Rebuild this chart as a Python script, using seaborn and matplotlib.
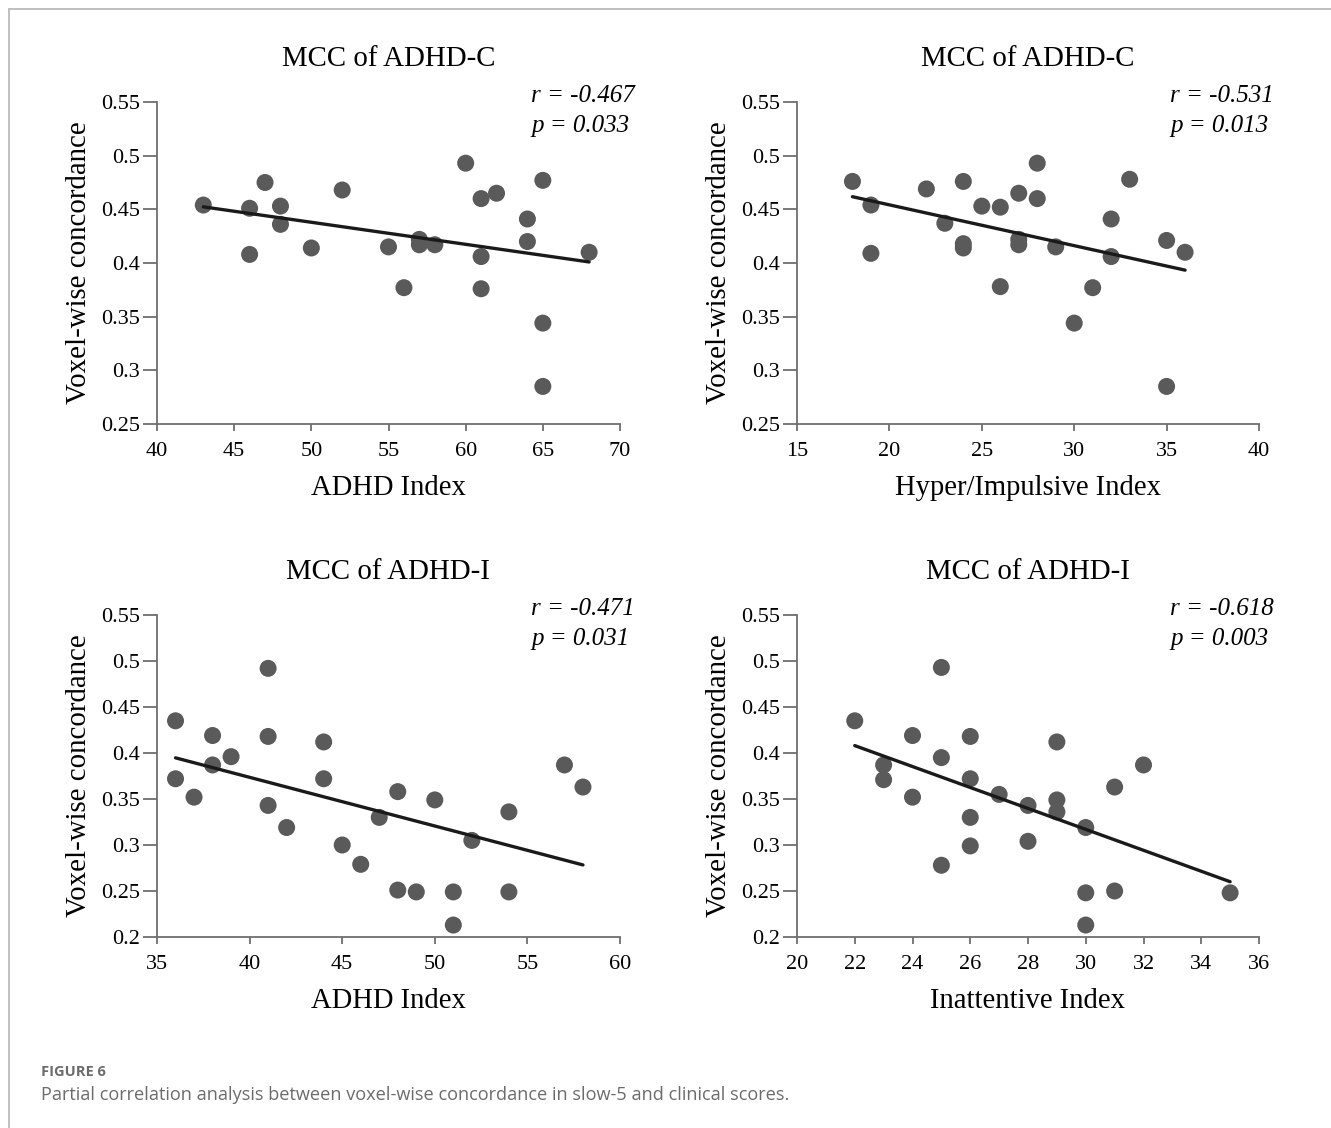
import matplotlib
matplotlib.use("Agg")
import matplotlib.pyplot as plt
import seaborn as sns
import pandas as pd
from matplotlib.lines import Line2D

# ---------------- data ----------------
titles = ["MCC of ADHD-C", "MCC of ADHD-C", "MCC of ADHD-I", "MCC of ADHD-I"]
xlabels = ["ADHD Index", "Hyper/Impulsive Index", "ADHD Index", "Inattentive Index"]
ylabel = "Voxel-wise concordance"
r_texts = ["r = -0.467", "r = -0.531", "r = -0.471", "r = -0.618"]
p_texts = ["p = 0.033", "p = 0.013", "p = 0.031", "p = 0.003"]

c_adhd_x = [43, 46, 46, 47, 48, 48, 50, 52, 55, 56, 57, 57, 58, 60, 61, 61, 61, 62,
            64, 64, 65, 65, 65, 68]
c_adhd_y = [0.454, 0.451, 0.408, 0.475, 0.453, 0.436, 0.414, 0.468, 0.415, 0.377,
            0.422, 0.417, 0.417, 0.493, 0.460, 0.406, 0.376, 0.465, 0.441, 0.420,
            0.477, 0.344, 0.285, 0.410]

c_hyp_x = [18, 19, 19, 22, 23, 24, 24, 24, 25, 26, 26, 27, 27, 27, 28, 28, 29, 30,
           31, 32, 32, 33, 35, 35, 36]
c_hyp_y = [0.476, 0.454, 0.409, 0.469, 0.437, 0.476, 0.418, 0.414, 0.453, 0.452,
           0.378, 0.465, 0.422, 0.417, 0.493, 0.460, 0.415, 0.344, 0.377, 0.441,
           0.406, 0.478, 0.421, 0.285, 0.410]

i_adhd_x = [36, 36, 37, 38, 38, 39, 41, 41, 41, 42, 44, 44, 45, 46, 47, 48, 48, 49,
            50, 51, 51, 52, 54, 54, 57, 58]
i_adhd_y = [0.435, 0.372, 0.352, 0.419, 0.387, 0.396, 0.492, 0.418, 0.343, 0.319,
            0.412, 0.372, 0.300, 0.279, 0.330, 0.358, 0.251, 0.249, 0.349, 0.249,
            0.213, 0.305, 0.336, 0.249, 0.387, 0.363]

i_inat_x = [22, 23, 23, 24, 24, 25, 25, 25, 26, 26, 26, 26, 27, 28, 28, 29, 29, 29,
            30, 30, 30, 31, 31, 32, 35]
i_inat_y = [0.435, 0.387, 0.371, 0.419, 0.352, 0.493, 0.395, 0.278, 0.418, 0.372,
            0.330, 0.299, 0.355, 0.343, 0.304, 0.412, 0.349, 0.336, 0.319, 0.248,
            0.213, 0.363, 0.250, 0.387, 0.248]

xs = [c_adhd_x, c_hyp_x, i_adhd_x, i_inat_x]
ys = [c_adhd_y, c_hyp_y, i_adhd_y, i_inat_y]
xlims = [(40, 70), (15, 40), (35, 60), (20, 36)]
xticks = [list(range(40, 71, 5)), list(range(15, 41, 5)),
          list(range(35, 61, 5)), list(range(20, 37, 2))]
ylims = [(0.25, 0.55), (0.25, 0.55), (0.2, 0.55), (0.2, 0.55)]
yticks = [[0.25, 0.3, 0.35, 0.4, 0.45, 0.5, 0.55], [0.25, 0.3, 0.35, 0.4, 0.45, 0.5, 0.55],
          [0.2, 0.25, 0.3, 0.35, 0.4, 0.45, 0.5, 0.55], [0.2, 0.25, 0.3, 0.35, 0.4, 0.45, 0.5, 0.55]]

caption_head = "FIGURE 6"
caption_body = "Partial correlation analysis between voxel-wise concordance in slow-5 and clinical scores."

# ---------------- style ----------------
sns.set_theme(style="white")
plt.rcParams['font.family'] = ['Liberation Serif', 'DejaVu Serif']

W, H = 1331, 1128
fig = plt.figure(figsize=(W / 100, H / 100), dpi=100)

# axes pixel boxes: left, top, right, bottom
boxes = [(157, 102, 620, 424), (797, 102, 1259, 424),
         (157, 615, 620, 937), (797, 615, 1259, 937)]

spine_col = "#6e6e6e"
for i, (l, t, r, b) in enumerate(boxes):
    ax = fig.add_axes([l / W, (H - b) / H, (r - l) / W, (b - t) / H])
    df = pd.DataFrame({"x": xs[i], "y": ys[i]})
    sns.regplot(data=df, x="x", y="y", ax=ax, ci=None, truncate=True,
                scatter_kws=dict(s=150, color="#5a5a5a", edgecolor="none", alpha=1, zorder=2),
                line_kws=dict(color="#1a1a1a", lw=2.4, zorder=3))
    ax.set_xlim(*xlims[i])
    ax.set_ylim(*ylims[i])
    ax.set_xticks(xticks[i])
    ax.set_yticks(yticks[i])
    ax.set_yticklabels([f"{v:g}" for v in yticks[i]])
    ax.set_xticklabels([str(v) for v in xticks[i]])
    for s in ["top", "right"]:
        ax.spines[s].set_visible(False)
    for s in ["left", "bottom"]:
        ax.spines[s].set_color(spine_col)
        ax.spines[s].set_linewidth(1.3)
    ax.tick_params(axis="both", which="both", direction="out", width=1.3,
                   color=spine_col, labelsize=16, labelcolor="black",
                   bottom=True, left=True)
    ax.tick_params(axis="y", length=10, pad=2)
    ax.tick_params(axis="x", length=5, pad=8)
    ax.set_title(titles[i], fontsize=20.8, pad=26, color="black")
    ax.set_xlabel(xlabels[i], fontsize=20.6, labelpad=10, color="black")
    ax.set_ylabel(ylabel, fontsize=20.8, labelpad=7, color="black")
    ax.text(0.808, 1.020, r_texts[i], transform=ax.transAxes, fontsize=18,
            style="italic", ha="left", va="center", color="black")
    ax.text(0.808, 0.927, p_texts[i], transform=ax.transAxes, fontsize=18,
            style="italic", ha="left", va="center", color="black")
    ax.grid(False)

# frame lines (top and left)
fig.add_artist(Line2D([9 / W, 1.0], [1 - 9 / H, 1 - 9 / H], transform=fig.transFigure,
                      color="#b5b5b5", lw=1.2))
fig.add_artist(Line2D([9 / W, 9 / W], [0.0, 1 - 9 / H], transform=fig.transFigure,
                      color="#b5b5b5", lw=1.2))

fig.text(41 / W, 1 - 1072 / H, caption_head, fontsize=10.5, fontweight="bold",
         color="#6b6b6b", family=["Open Sans", "DejaVu Sans"], ha="left", va="center")
fig.text(41 / W, 1 - 1095 / H, caption_body, fontsize=13.1,
         color="#6b6b6b", family=["Open Sans", "DejaVu Sans"], ha="left", va="center")

fig.savefig("out.png", dpi=100, facecolor="white")
